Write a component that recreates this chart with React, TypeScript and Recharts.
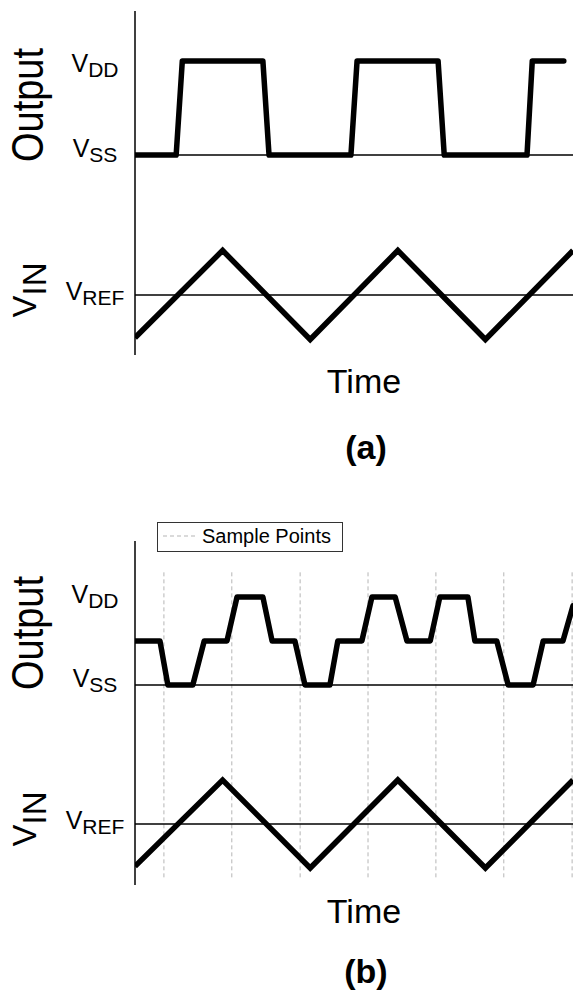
import React from "react";
import { LineChart, Line, XAxis, YAxis, ReferenceLine } from "recharts";

// time runs 0..100 (arbitrary units) across the plot
const vinTime = [0, 20, 40, 60, 80, 100];
const vinValue = [-0.96, 1, -1, 1, -1, 1];

// (a) comparator output, 0 = VSS, 1 = VDD
const outATime = [0, 9.4, 10.8, 29.2, 30.6, 49.3, 50.7, 69.2, 70.6, 89.5, 90.7, 97.9];
const outAValue = [0, 0, 1, 1, 0, 0, 1, 1, 0, 0, 1, 1];

// (b) sampled output, 0.5 = middle level
const outBTime = [
    0, 5.7, 7.5, 13.2, 15.8, 21.0, 23.3, 29.2, 31.3, 36.5, 38.8, 44.5, 46.3, 51.8,
    54.1, 59.4, 62.1, 67.4, 69.6, 76.0, 77.6, 82.6, 85.2, 90.9, 93.2, 97.7, 100,
];
const outBValue = [
    0.5, 0.5, 0, 0, 0.5, 0.5, 1, 1, 0.5, 0.5, 0, 0, 0.5, 0.5,
    1, 1, 0.5, 0.5, 1, 1, 0.5, 0.5, 0, 0, 0.5, 0.5, 0.9,
];

const sampleTimes = [6.6, 22.1, 37.7, 53.2, 68.7, 84.2, 99.8];

const outTicks = [0, 1];
const outTickSubs = ["SS", "DD"];
const vinRef = 0;

const FONT = "'Liberation Sans', Arial, Helvetica, sans-serif";
const LABEL_X = 95;

const rows = (ts: number[], vs: number[]) => ts.map((t, i) => ({ t, v: vs[i] }));
const vinData = rows(vinTime, vinValue);

function VLabel({ x, y, sub }: { x: number; y: number; sub: string }) {
    return (
        <text x={x} y={y} textAnchor="middle" fontFamily={FONT} fill="#000">
            <tspan fontSize={25}>V</tspan>
            <tspan fontSize={21} dy={5}>{sub}</tspan>
        </text>
    );
}

function RefLabel(props: any) {
    const vb = props.viewBox || {};
    return <VLabel x={LABEL_X} y={vb.y + props.shift} sub="REF" />;
}

function Panel(props: {
    top: number;
    mTop: number;
    mBottom: number;
    outDomain: number[];
    vinDomain: number[];
    outData: { t: number; v: number }[];
    dy: Record<string, number>;
    samples?: boolean;
}) {
    const { dy } = props;
    return (
        <div style={{ position: "absolute", left: 0, top: props.top }}>
            <LineChart width={573} height={400} margin={{ top: props.mTop, right: 0, bottom: props.mBottom, left: 0 }}>
                <XAxis type="number" dataKey="t" domain={[0, 100]} allowDataOverflow hide />
                <YAxis
                    yAxisId="out"
                    type="number"
                    domain={props.outDomain}
                    allowDataOverflow
                    ticks={outTicks}
                    interval={0}
                    width={135}
                    tickLine={false}
                    axisLine={{ stroke: "#000", strokeWidth: 1.5 }}
                    tick={(p: any) => {
                        const sub = outTickSubs[outTicks.indexOf(p.payload.value)];
                        return <VLabel key={sub} x={LABEL_X} y={p.y + dy[sub]} sub={sub} />;
                    }}
                />
                <YAxis yAxisId="vin" type="number" domain={props.vinDomain} allowDataOverflow hide />
                {props.samples &&
                    sampleTimes.map((s) => (
                        <ReferenceLine
                            key={s}
                            yAxisId="out"
                            segment={[{ x: s, y: 1.28 }, { x: s, y: -2.2 }]}
                            stroke="#b5b5b5"
                            strokeWidth={1}
                            strokeDasharray="4 3"
                        />
                    ))}
                <ReferenceLine yAxisId="out" y={0} stroke="#000" strokeWidth={1.5} />
                <ReferenceLine yAxisId="vin" y={vinRef} stroke="#000" strokeWidth={1.5} label={<RefLabel shift={dy.REF} />} />
                <Line
                    yAxisId="out"
                    data={props.outData}
                    dataKey="v"
                    type="linear"
                    stroke="#000"
                    strokeWidth={5.5}
                    strokeLinejoin="round"
                    strokeLinecap="round"
                    dot={false}
                    isAnimationActive={false}
                />
                <Line
                    yAxisId="vin"
                    data={vinData}
                    dataKey="v"
                    type="linear"
                    stroke="#000"
                    strokeWidth={5.5}
                    dot={false}
                    isAnimationActive={false}
                />
            </LineChart>
        </div>
    );
}

export default function App() {
    return (
        <div style={{ position: "absolute", left: 0, top: 0, width: 573, height: 993, background: "#fff", fontFamily: FONT }}>
            <Panel
                top={0}
                mTop={11}
                mBottom={45}
                outDomain={[-2.128, 1.532]}
                vinDomain={[-1.348, 6.382]}
                outData={rows(outATime, outAValue)}
                dy={{ DD: 11, SS: 2, REF: 5 }}
            />
            <Panel
                top={500}
                mTop={41}
                mBottom={15}
                outDomain={[-2.273, 1.636]}
                vinDomain={[-1.386, 6.432]}
                outData={rows(outBTime, outBValue)}
                dy={{ DD: 6, SS: 2, REF: 5 }}
                samples
            />
            <svg width={573} height={993} style={{ position: "absolute", left: 0, top: 0, pointerEvents: "none" }}>
                <g fontFamily={FONT} fill="#000">
                    <text transform="translate(43,105) rotate(-90) scale(1,1.15)" textAnchor="middle" fontSize={38}>Output</text>
                    <text transform="translate(36,290) rotate(-90)" textAnchor="middle" fontSize={33}>
                        <tspan>V</tspan>
                        <tspan dy={10}>IN</tspan>
                    </text>
                    <text x={364} y={393} textAnchor="middle" fontSize={34}>Time</text>
                    <text x={366} y={459} textAnchor="middle" fontSize={34} fontWeight="bold">(a)</text>

                    <rect x={157.5} y={522.5} width={185} height={29} fill="#fff" stroke="#333" strokeWidth={1} />
                    <line x1={163} y1={536} x2={195} y2={536} stroke="#b5b5b5" strokeWidth={1} strokeDasharray="4 3" />
                    <text x={202} y={543} fontSize={20}>Sample Points</text>

                    <text transform="translate(43,633) rotate(-90) scale(1,1.15)" textAnchor="middle" fontSize={38}>Output</text>
                    <text transform="translate(36,819) rotate(-90)" textAnchor="middle" fontSize={33}>
                        <tspan>V</tspan>
                        <tspan dy={10}>IN</tspan>
                    </text>
                    <text x={364} y={923} textAnchor="middle" fontSize={34}>Time</text>
                    <text x={366} y={983} textAnchor="middle" fontSize={34} fontWeight="bold">(b)</text>
                </g>
            </svg>
        </div>
    );
}
